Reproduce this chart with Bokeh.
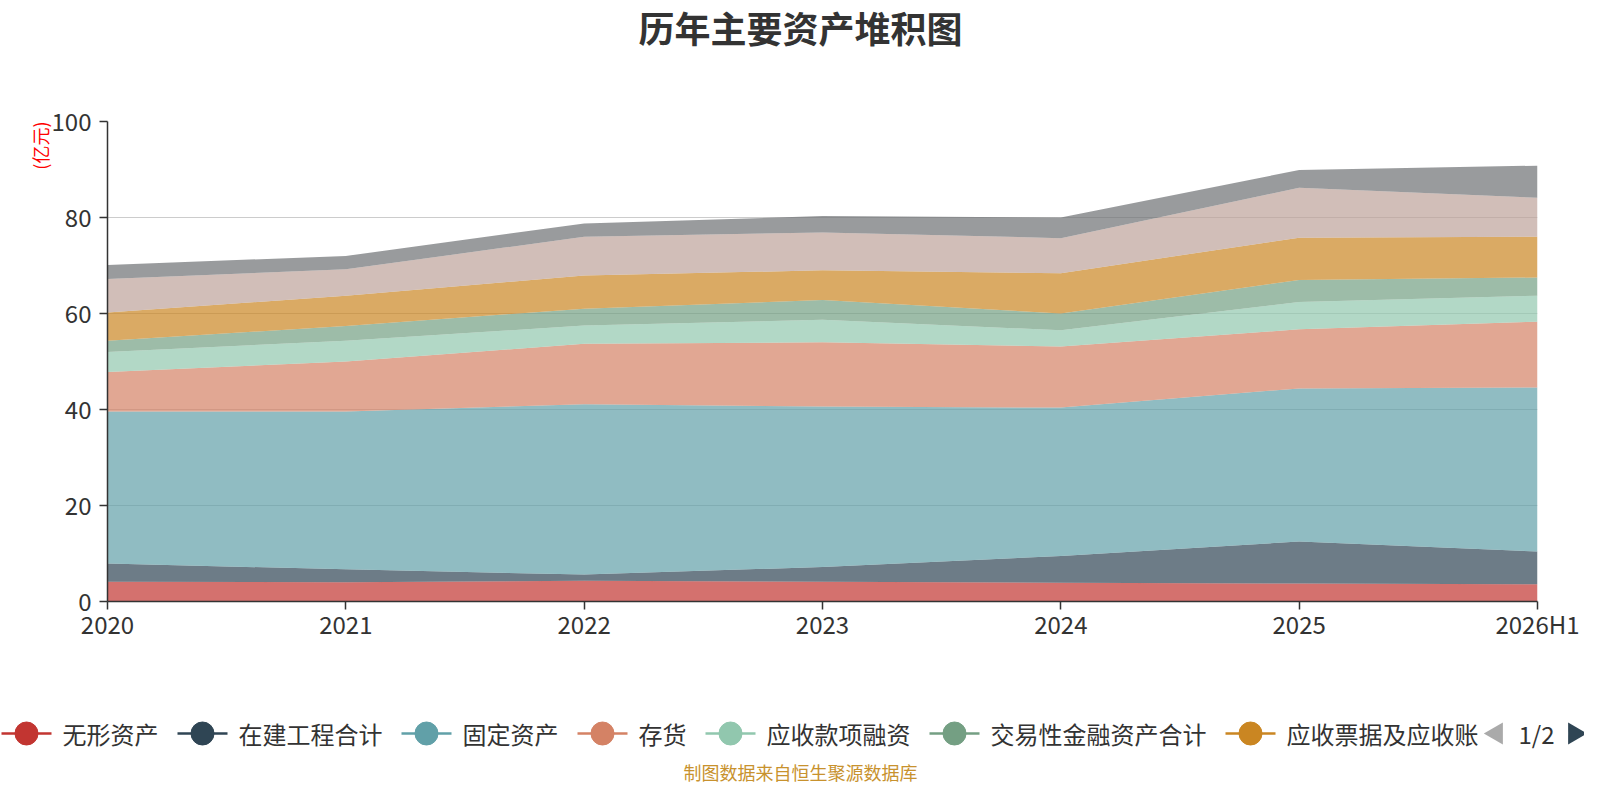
import math
from bokeh.plotting import figure
from bokeh.layouts import column
from bokeh.models import ColumnDataSource, Range1d, FixedTicker, Title
from bokeh.core.properties import value
from bokeh.embed import file_html
from bokeh.resources import INLINE

# ---------------- data (亿元) ----------------
periods = ["2020", "2021", "2022", "2023", "2024", "2025", "2026H1"]
intangible = [4.1, 4.0, 4.3, 4.1, 3.9, 3.75, 3.6]          # 无形资产
construction = [3.8, 2.7, 1.3, 3.1, 5.6, 8.75, 6.8]         # 在建工程合计
fixed_assets = [31.7, 32.9, 35.5, 33.4, 30.9, 31.9, 34.2]   # 固定资产
inventory = [8.2, 10.4, 12.6, 13.4, 12.7, 12.3, 13.7]       # 存货
receivable_fin = [4.2, 4.3, 3.8, 4.7, 3.4, 5.7, 5.4]        # 应收款项融资
trading_fin = [2.3, 3.1, 3.5, 4.1, 3.5, 4.6, 3.8]           # 交易性金融资产合计
notes_receivable = [5.9, 6.3, 6.9, 6.2, 8.4, 8.8, 8.5]      # 应收票据及应收账款
cash = [7.0, 5.5, 8.1, 7.9, 7.3, 10.4, 8.1]                 # 货币资金
others = [2.9, 2.8, 2.75, 3.4, 4.3, 3.7, 6.7]               # 其他

series_names = ["无形资产", "在建工程合计", "固定资产", "存货", "应收款项融资",
                "交易性金融资产合计", "应收票据及应收账款", "货币资金", "其他"]
legend_labels = ["无形资产", "在建工程合计", "固定资产", "存货", "应收款项融资",
                 "交易性金融资产合计", "应收票据及应收账"]
series_values = [intangible, construction, fixed_assets, inventory, receivable_fin,
                 trading_fin, notes_receivable, cash, others]
colors = ["#c23531", "#2f4554", "#61a0a8", "#d48265", "#91c7ae",
          "#749f83", "#ca8622", "#bda29a", "#6e7074"]
y_ticks = [0, 20, 40, 60, 80, 100]
title_text = "历年主要资产堆积图"
unit_text = "(亿元)"
source_text = "制图数据来自恒生聚源数据库"
pager_text = "1/2"

FONT = "Noto Sans CJK SC"
W = 1584


def no_align(f):
    if "frame_align" in f.properties():
        f.frame_align = False


def blank(height):
    f = figure(width=W, height=height, output_backend="svg", toolbar_location=None,
               x_range=Range1d(0, W), y_range=Range1d(0, height),
               x_axis_location=None, y_axis_location=None,
               min_border=0, min_border_left=0, min_border_right=0,
               min_border_top=0, min_border_bottom=0)
    f.grid.visible = False
    f.outline_line_color = None
    f.background_fill_color = "white"
    f.border_fill_color = "white"
    no_align(f)
    return f


# ---------------- header (title) ----------------
HEAD_H = 60
head = blank(HEAD_H)
head.text(x=[800], y=[HEAD_H - 26], text=[title_text], text_font=value(FONT),
          text_font_size=value("36px"), text_font_style="bold", text_color="#333333",
          text_align="center", text_baseline="middle")

# ---------------- main chart ----------------
MAIN_H = 591
positions = list(range(len(periods)))
data = {"x": positions}
for n, v in zip(series_names, series_values):
    data[n] = v
src = ColumnDataSource(data)

p = figure(width=W, height=MAIN_H, output_backend="svg", toolbar_location=None,
           x_range=Range1d(0, len(periods) - 1), y_range=Range1d(0, 100),
           min_border_left=107, min_border_right=47, min_border_top=61,
           min_border_bottom=50)
no_align(p)
p.outline_line_color = None
p.background_fill_color = "white"
p.border_fill_color = "white"

p.varea_stack(stackers=series_names, x="x", color=colors, fill_alpha=0.7, source=src)

p.xaxis.ticker = FixedTicker(ticks=positions)
p.xaxis.major_label_overrides = {i: lab for i, lab in enumerate(periods)}
p.yaxis.ticker = FixedTicker(ticks=y_ticks)
for ax in (p.xaxis, p.yaxis):
    ax.axis_line_color = "#333333"
    ax.axis_line_width = 1.5
    ax.major_tick_line_color = "#333333"
    ax.major_tick_line_width = 1.5
    ax.major_tick_out = 8
    ax.major_tick_in = 0
    ax.minor_tick_line_color = None
    ax.major_label_text_font = FONT
    ax.major_label_text_font_size = "24px"
    ax.major_label_text_color = "#333333"
p.xaxis.major_label_standoff = -4
p.yaxis.major_label_standoff = 8

p.add_layout(Title(text=unit_text, align="right", text_font=FONT,
                   text_font_size="18px", text_font_style="normal",
                   text_color="#ff0000", standoff=-9), "left")

p.xgrid.grid_line_color = None
p.ygrid.grid_line_color = "#cccccc"
p.ygrid.grid_line_width = 1

# ---------------- footer (legend + source) ----------------
FOOT_H = 784 - HEAD_H - MAIN_H
foot = blank(FOOT_H)
LEG_Y = 51
CHAR = 24
lx0, lx1, cx, tx = [], [], [], []
x0 = 1
for lab in legend_labels:
    lx0.append(x0)
    lx1.append(x0 + 50)
    cx.append(x0 + 25)
    tx.append(x0 + 61)
    x0 += 61 + CHAR * len(lab) + 19
ys = [LEG_Y] * len(legend_labels)
foot.segment(x0=lx0, y0=ys, x1=lx1, y1=ys, line_color=colors[:7], line_width=2.5)
foot.scatter(x=cx, y=ys, marker="circle", size=23, fill_color=colors[:7],
             line_color=colors[:7])
foot.text(x=tx, y=ys, text=legend_labels, text_font=value(FONT),
          text_font_size=value("24px"), text_color="#333333",
          text_align="left", text_baseline="middle")

# pager
text_end = tx[-1] + CHAR * len(legend_labels[-1])
foot.scatter(x=[text_end + 18], y=[LEG_Y], marker="triangle", size=22,
             angle=math.pi / 2, fill_color="#aaaaaa", line_color=None)
foot.text(x=[text_end + 58], y=[LEG_Y], text=[pager_text], text_font=value(FONT),
          text_font_size=value("24px"), text_color="#333333",
          text_align="center", text_baseline="middle")
foot.scatter(x=[text_end + 96], y=[LEG_Y], marker="triangle", size=22,
             angle=-math.pi / 2, fill_color="#2f4554", line_color=None)

foot.text(x=[800], y=[13], text=[source_text], text_font=value(FONT),
          text_font_size=value("18px"), text_color="#c8922e",
          text_align="center", text_baseline="middle")

layout = column(head, p, foot, spacing=0)
open("out.html", "w").write(file_html(layout, INLINE))
